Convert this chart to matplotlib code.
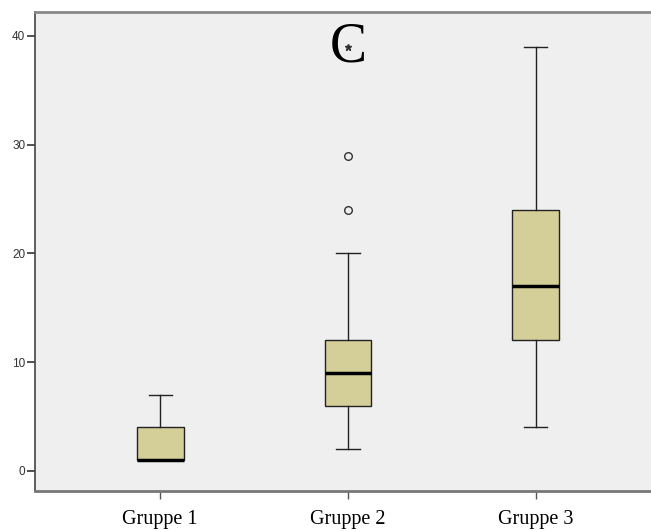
import numpy as np
import matplotlib.pyplot as plt

# box statistics
groups = ['Gruppe 1', 'Gruppe 2', 'Gruppe 3']
whislo = [1, 2, 4]
q1 = [1, 6, 12]
med = [1, 9, 17]
q3 = [4, 12, 24]
whishi = [7, 20, 39]
outliers = [[], [24, 29], []]
extremes = [[], [39], []]

yticks = [0, 10, 20, 30, 40]

stats = []
for i in range(len(groups)):
    stats.append({'label': groups[i], 'whislo': whislo[i], 'q1': q1[i], 'med': med[i],
                  'q3': q3[i], 'whishi': whishi[i], 'fliers': outliers[i]})

fig = plt.figure(figsize=(6.51, 5.31), dpi=100)
ax = fig.add_axes([35 / 651, 1 - 491 / 531, 626 / 651, 479 / 531])
ax.set_facecolor('#efefef')

pos = np.arange(1, len(groups) + 1)
ax.bxp(stats, positions=pos, widths=0.25, patch_artist=True,
       boxprops=dict(facecolor='#d4cf98', edgecolor='#222222', linewidth=1),
       medianprops=dict(color='black', linewidth=2.5),
       whiskerprops=dict(color='#222222', linewidth=1),
       capprops=dict(color='#222222', linewidth=1),
       capwidths=0.125,
       flierprops=dict(marker='o', markerfacecolor='none', markeredgecolor='#333333',
                       markersize=5.5, markeredgewidth=1))

# extreme values (star)
for i in range(len(groups)):
    for v in extremes[i]:
        ax.plot(pos[i], v, marker='*', color='#333333', markersize=4.5, linestyle='none')

ax.text(2, 38.9, 'C', fontsize=40, family='Liberation Serif', ha='center', va='center')

ax.set_xlim(1 - 0.667, 3 + 0.667)
ax.set_ylim(-1.85, 42.2)
ax.set_yticks(yticks)
ax.set_yticklabels([str(t) for t in yticks], fontsize=8.5, color='#333333', family='Liberation Sans')
ax.set_xticks(pos)
ax.set_xticklabels(groups, fontsize=14.5, family='Liberation Serif')
ax.tick_params(axis='y', length=6, width=1.2, color='#333333', pad=1)
ax.tick_params(axis='x', length=6, width=1, color='#555555', pad=8)

ax.spines['left'].set_color('#444444')
ax.spines['left'].set_linewidth(1.2)
ax.spines['bottom'].set_color('#777777')
ax.spines['bottom'].set_linewidth(2)
ax.spines['top'].set_color('#888888')
ax.spines['top'].set_linewidth(2)
ax.spines['right'].set_visible(False)

plt.savefig('out.png', dpi=100)
